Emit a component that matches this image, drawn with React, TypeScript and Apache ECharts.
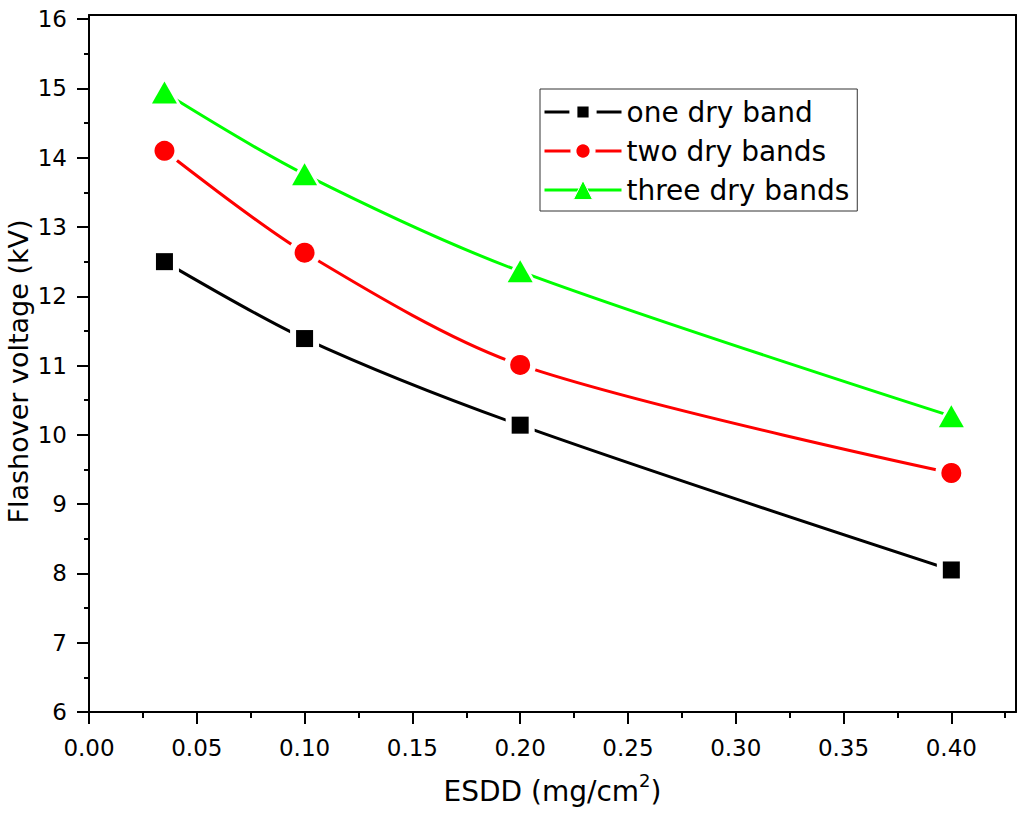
import React, { useEffect, useRef } from "react";
import * as echarts from "echarts";

const esdd = [0.035, 0.1, 0.2, 0.4];
const oneDryBand = [12.5, 11.39, 10.14, 8.05];
const twoDryBands = [14.1, 12.63, 11.01, 9.45];
const threeDryBands = [14.94, 13.76, 12.36, 10.27];
const seriesNames = ["one dry band", "two dry bands", "three dry bands"];
const xTicks = [0, 0.05, 0.1, 0.15, 0.2, 0.25, 0.3, 0.35, 0.4];
const yTicks = [6, 7, 8, 9, 10, 11, 12, 13, 14, 15, 16];

const FONT = "DejaVu Sans";

export default function App() {
  const ref = useRef<HTMLDivElement>(null);
  useEffect(() => {
    document.body.style.margin = "0";
    const chart = echarts.init(ref.current!, null, { renderer: "svg" });
    const pairs = (ys: number[]) => esdd.map((x, i) => [x, ys[i]]);
    const lineOf = (name: string, ys: number[], color: string, symbol: string) => ({
      name,
      type: "line",
      data: pairs(ys),
      smooth: 0.3,
      symbol,
      showSymbol: false,
      color,
      z: 2,
      lineStyle: { color, width: 3 },
      itemStyle: { color, borderColor: "#ffffff", borderWidth: 5 },
      emphasis: { disabled: true },
    });
    const marksOf = (name: string, ys: number[], color: string, symbol: string, size: any, z: number) => ({
      name,
      type: "scatter",
      data: pairs(ys),
      symbol,
      symbolSize: size,
      color,
      z,
      itemStyle: { color, opacity: 1, borderWidth: 0 },
      emphasis: { disabled: true },
    });
    const axisLine = { show: true, onZero: false, lineStyle: { color: "#000", width: 2 } };
    const frameAxis = {
      type: "value",
      axisLine,
      axisTick: { show: false },
      axisLabel: { show: false },
      splitLine: { show: false },
    };
    chart.setOption({
      animation: false,
      grid: { left: 89, right: 8, top: 15, bottom: 106, containLabel: false, outerBoundsMode: "none" },
      legend: {
        orient: "vertical",
        left: 540,
        top: 89,
        padding: [8, 8, 6, 3],
        itemGap: 9,
        itemWidth: 77,
        itemHeight: 24,
        itemTextGap: 8,
        borderColor: "#333",
        borderWidth: 1,
        backgroundColor: "#fff",
        textStyle: { fontFamily: FONT, fontSize: 28, color: "#000", lineHeight: 30 },
        lineStyle: { width: 3 },
        data: [
          { name: seriesNames[0], itemStyle: { borderWidth: 8 } },
          { name: seriesNames[1], itemStyle: { borderWidth: 6 } },
          { name: seriesNames[2], itemStyle: { borderWidth: 1 } },
        ],
      },
      xAxis: [
        {
          type: "value",
          position: "bottom",
          min: 0,
          max: 0.43,
          interval: 0.05,
          axisLine,
          axisTick: { show: true, length: 12, customValues: xTicks, lineStyle: { color: "#000", width: 2 } },
          minorTick: { show: true, splitNumber: 2, length: 6, lineStyle: { color: "#000", width: 2 } },
          axisLabel: {
            customValues: xTicks,
            formatter: (v: number) => v.toFixed(2),
            fontFamily: FONT,
            fontSize: 23,
            color: "#000",
            margin: 24,
          },
          splitLine: { show: false },
          name: "{a|ESDD (mg/cm}{s|2}{a|)}",
          nameLocation: "middle",
          nameGap: 59,
          nameMoveOverlap: false,
          nameTextStyle: {
            fontFamily: FONT,
            fontSize: 28,
            color: "#000",
            rich: {
              a: { fontFamily: FONT, fontSize: 28, lineHeight: 40, color: "#000" },
              s: { fontFamily: FONT, fontSize: 18, lineHeight: 18, verticalAlign: "top", color: "#000" },
            },
          },
        },
        { ...frameAxis, position: "top", min: 0, max: 0.43 },
      ],
      yAxis: [
        {
          type: "value",
          position: "left",
          min: 6,
          max: 16.06,
          interval: 1,
          axisLine,
          axisTick: { show: true, length: 12, customValues: yTicks, lineStyle: { color: "#000", width: 2 } },
          minorTick: { show: true, splitNumber: 2, length: 5, lineStyle: { color: "#000", width: 2 } },
          axisLabel: {
            customValues: yTicks,
            formatter: (v: number) => String(Math.round(v)),
            fontFamily: FONT,
            fontSize: 23,
            color: "#000",
            margin: 22,
          },
          splitLine: { show: false },
          name: "Flashover voltage (kV)",
          nameLocation: "middle",
          nameGap: 57,
          nameMoveOverlap: false,
          nameTextStyle: {
            fontFamily: FONT,
            fontSize: 27,
            color: "#000",
            lineHeight: 27,
            padding: [0, 16, 0, 0],
          },
        },
        { ...frameAxis, position: "right", min: 6, max: 16.06 },
      ],
      series: [
        lineOf(seriesNames[0], oneDryBand, "#000000", "rect"),
        lineOf(seriesNames[1], twoDryBands, "#ff0000", "circle"),
        lineOf(seriesNames[2], threeDryBands, "#00ff00", "triangle"),
        marksOf("halo-1", oneDryBand, "#ffffff", "rect", 29, 3),
        marksOf("halo-2", twoDryBands, "#ffffff", "circle", 32, 3),
        marksOf("halo-3", threeDryBands, "#ffffff", "triangle", [38, 34], 3),
        marksOf(seriesNames[0], oneDryBand, "#000000", "rect", 17, 4),
        marksOf(seriesNames[1], twoDryBands, "#ff0000", "circle", 20, 4),
        marksOf(seriesNames[2], threeDryBands, "#00ff00", "triangle", [25, 22], 4),
      ],
    });
    return () => chart.dispose();
  }, []);
  return <div ref={ref} style={{ width: 1024, height: 818 }} />;
}
